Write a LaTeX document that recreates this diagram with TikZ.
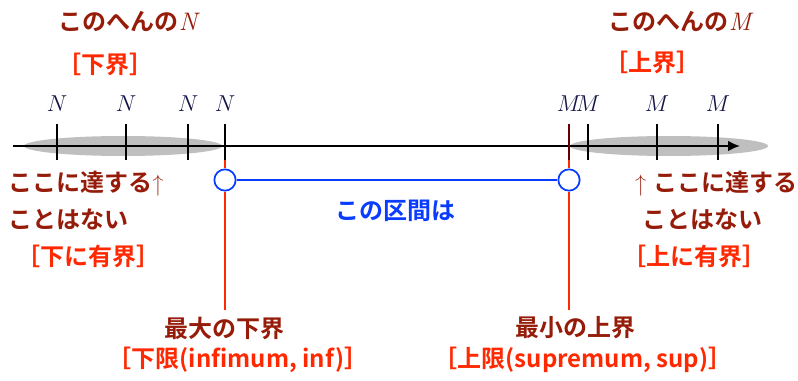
\documentclass[tikz,border=0pt]{standalone}
\usepackage{fontspec}
\newfontfamily\jp{Noto Sans CJK JP}[BoldFont={Noto Sans CJK JP Bold}]
\usetikzlibrary{arrows.meta}
\definecolor{dred}{RGB}{150,28,10}
\definecolor{bred}{RGB}{255,40,0}
\definecolor{bblue}{RGB}{10,60,255}
\definecolor{navy}{RGB}{20,20,70}
\begin{document}
\begin{tikzpicture}[x=0.75pt,y=-0.75pt,
  jtxt/.style={font=\jp\bfseries\fontsize{18}{21}\selectfont, inner sep=0pt},
  dtxt/.style={jtxt, text=dred},
  rtxt/.style={jtxt, text=bred},
  lab/.style={font=\fontsize{18}{20}\selectfont, text=navy, inner sep=0pt},
  tick/.style={line width=1.5pt, black},
  dot/.style={circle, draw=bblue, fill=white, line width=1.3pt, minimum size=16pt, inner sep=0pt}]
\useasboundingbox (0,0) rectangle (798,381);
% shaded regions
\fill[gray!50] (123,146) ellipse [x radius=99, y radius=10];
\fill[gray!50] (669,146) ellipse [x radius=99, y radius=10];
% axis
\coordinate (a0) at (13,146);
\coordinate (a1) at (740,146);
\draw[line width=1.5pt, -{Latex[length=9pt,width=8pt]}] (a0) -- (a1);
% ticks
\foreach \x/\n in {57/n1,126/n2,188/n3,225/n4,588/m2,657/m3,718/m4}{
  \coordinate (\n t) at (\x,124);
  \coordinate (\n b) at (\x,160);
  \draw[tick] (\n t) -- (\n b);
}
\coordinate (m1t) at (569,124);
\coordinate (m1b) at (569,160);
\draw[line width=1.5pt, black!60!red] (m1t) -- (m1b);
% labels
\foreach \x/\n in {57/ln1,126/ln2,188/ln3,225/ln4}{
  \node[lab] (\n) at (\x,104) {$N$};
}
\foreach \x/\n in {569/lm1,588/lm2,657/lm3,718/lm4}{
  \node[lab] (\n) at (\x,104) {$M$};
}
% circles and interval
\node[dot] (c1) at (225,180) {};
\node[dot] (c2) at (569,180) {};
\coordinate (r1) at (225,310);
\coordinate (r2) at (569,310);
\draw[bred, line width=1.5pt] (n4b) -- (c1.north);
\draw[bred, line width=1.5pt] (m1b) -- (c2.north);
\draw[bred, line width=1.5pt] (c1.south) -- (r1);
\draw[bred, line width=1.5pt] (c2.south) -- (r2);
\draw[bblue, line width=1.5pt] (c1) -- (c2);
\node[jtxt, text=bblue] (iv) at (395,211) {この区間は};
% top labels
\node[dtxt] (tn) at (128,22) {このへんの\normalfont\itshape\fontsize{19}{21}\selectfont N};
\node[rtxt] (tnl) at (105,64) {［下界］};
\node[dtxt] (tm) at (680,22) {このへんの\normalfont\itshape\fontsize{19}{21}\selectfont M};
\node[rtxt] (tml) at (652,62) {［上界］};
% side labels
\node[dtxt, anchor=west] (l1) at (8,184) {ここに達する\normalfont↑};
\node[dtxt, anchor=west] (l2) at (8,219) {ことはない};
\node[rtxt, anchor=west] (l3) at (16,256) {［下に有界］};
\node[dtxt, anchor=east] (q1) at (798,184) {\normalfont↑ \jp\bfseries ここに達する};
\node[dtxt, anchor=west] (q2) at (642,219) {ことはない};
\node[rtxt, anchor=west] (q3) at (622,256) {［上に有界］};
% bottom labels
\node[dtxt] (b1) at (224,328) {最大の下界};
\node[rtxt] (b2) at (238,360) {［下限(infimum, inf)］};
\node[dtxt] (b3) at (575,328) {最小の上界};
\node[rtxt] (b4) at (583,360) {［上限(supremum, sup)］};
\end{tikzpicture}
\end{document}
